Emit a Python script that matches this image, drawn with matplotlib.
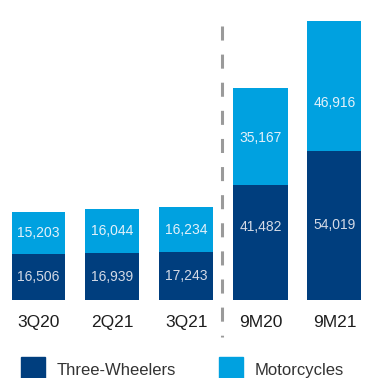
import matplotlib
matplotlib.use("Agg")
import matplotlib.pyplot as plt
from matplotlib.patches import Rectangle

# --- data ---
periods = ["3Q20", "2Q21", "3Q21", "9M20", "9M21"]
three_wheelers = [16506, 16939, 17243, 41482, 54019]
motorcycles = [15203, 16044, 16234, 35167, 46916]

# where each value label sits inside its segment (0 = bottom, 1 = top)
tw_label_frac = [0.5, 0.5, 0.5, 0.64, 0.5]
mc_label_frac = [0.5, 0.5, 0.5, 0.49, 0.365]

NAVY = "#003E7E"
BLUE = "#00A1E0"
GREY = "#9A9A9A"

plt.rcParams["font.family"] = ["Liberation Sans", "DejaVu Sans"]

W, H = 379, 378
fig = plt.figure(figsize=(W / 100, H / 100), dpi=100)
ax = fig.add_axes([0, (H - 300) / H, 1, 300 / H])

x = list(range(len(periods)))
bw = 54 / 74
ax.bar(x, three_wheelers, width=bw, color=NAVY)
ax.bar(x, motorcycles, width=bw, bottom=three_wheelers, color=BLUE)

for i in x:
    tw, mc = three_wheelers[i], motorcycles[i]
    ax.text(i, tw * tw_label_frac[i], f"{tw:,}", ha="center", va="center",
            fontsize=10, color="#d4dae6")
    ax.text(i, tw + mc * mc_label_frac[i], f"{mc:,}", ha="center", va="center",
            fontsize=10, color="#e4f1fa")

# quarters | nine months separator
sep_x = (222.5 - 38.5) / 74
ax.plot([sep_x, sep_x], [(300 - 26) / 300, (300 - 337) / 300],
        transform=ax.get_xaxis_transform(), color=GREY, lw=2.2,
        dashes=(4.6, 4.6), solid_capstyle="butt", dash_capstyle="butt",
        clip_on=False)

ax.set_xlim(-38.5 / 74, (W - 38.5) / 74)
ax.set_ylim(0, 300 / 0.002764)
ax.set_xticks(x)
ax.set_xticklabels(periods, fontsize=12.5, color="#1e1e1e")
ax.tick_params(axis="x", length=0, pad=10.5)
ax.set_yticks([])
for s in ax.spines.values():
    s.set_visible(False)

# legend
for px, label, col in [(21, "Three-Wheelers", NAVY), (219, "Motorcycles", BLUE)]:
    fig.patches.append(Rectangle((px / W, (H - 381) / H), 24 / W, 24 / H,
                                 transform=fig.transFigure, color=col))
    fig.text((px + 36) / W, (H - 375) / H, label, fontsize=12,
             color="#333333", va="baseline")

fig.savefig("out.png", dpi=100)
